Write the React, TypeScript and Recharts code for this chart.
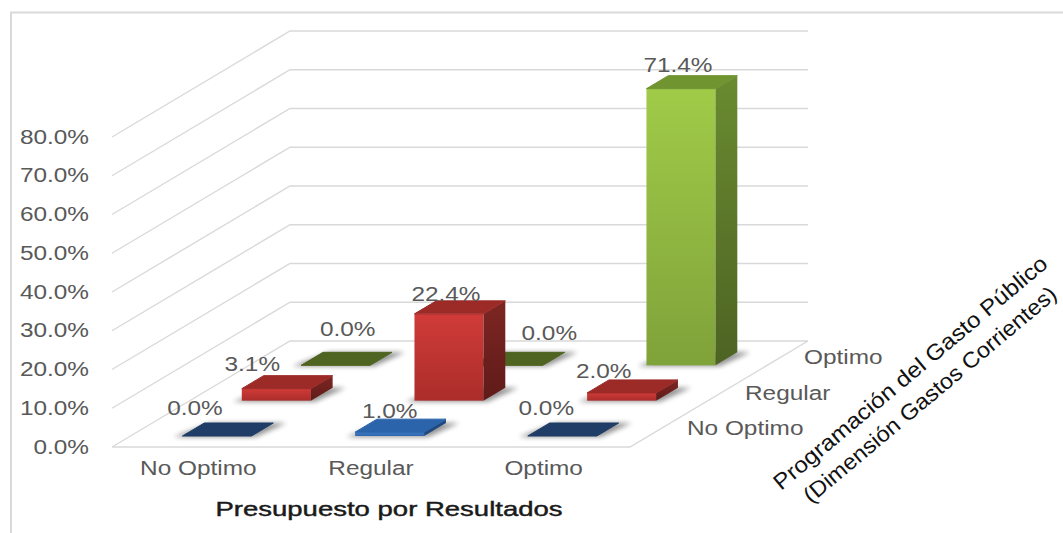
import { Bar, BarChart, CartesianGrid, LabelList, XAxis, YAxis } from 'recharts';

const categories = ['No Optimo', 'Regular', 'Optimo'];
const noOptimoValues = [0.0, 1.0, 0.0];
const regularValues = [3.1, 22.4, 2.0];
const optimoValues = [0.0, 0.0, 71.4];
const yTicks = [0, 10, 20, 30, 40, 50, 60, 70, 80];

const tableData = categories.map((name, i) => ({
  name,
  noOptimo: noOptimoValues[i],
  regular: regularValues[i],
  optimo: optimoValues[i],
}));

// oblique projection of the floor
const DEPTH_X = 178;
const DEPTH_Y = 106;
const ROW_DEPTH = DEPTH_Y / 3;
const FLOOR_INSET = 11;
const BAR_DEPTH = 13;
const SLOPE = DEPTH_X / DEPTH_Y;
const FLOOR_Y = 447;

const GREY = '#595959';
const GRID = '#d9d9d9';
const FONT = '"Liberation Sans", Arial, sans-serif';
const WIDEN = 1.25;

const rowStyles = [
  { front: 'url(#frontBlue)', side: '#1f4a80', top: '#2b64ab', flat: '#1f3d66' },
  { front: 'url(#frontRed)', side: 'url(#sideRed)', top: '#9c2b28', flat: '#9c2b28' },
  { front: 'url(#frontGreen)', side: 'url(#sideGreen)', top: '#6f9430', flat: '#4f6420' },
];

// label nudges relative to the front face, [row][column] -> [dx, dy]
const labelNudge = [
  [[-22, -21], [0, -14], [-16, -21]],
  [[-24, -18], [-3, -13], [-18, -15]],
  [[12, -29], [41, -25], [-3, -17]],
];

function WideText({ x, y, children, anchor = 'start', size = 19.5, fill = GREY, weight = 'normal', scale = WIDEN, stroke }: any) {
  return (
    <text
      transform={`translate(${x} ${y}) scale(${scale} 1)`}
      textAnchor={anchor}
      fontFamily={FONT}
      fontSize={size}
      fontWeight={weight}
      fill={fill}
      stroke={stroke}
      strokeWidth={stroke ? 0.45 : undefined}
    >
      {children}
    </text>
  );
}

const makeBarShape = (row: number) => (props: any) => {
  const { x, y, width, height } = props;
  const st = rowStyles[row];
  const shiftY = FLOOR_INSET + row * ROW_DEPTH;
  const shiftX = shiftY * SLOPE;
  const fx = x + shiftX;
  const fy = y - shiftY;
  const base = fy + height;
  const dy = BAR_DEPTH;
  const dx = BAR_DEPTH * SLOPE;
  const pts = (p: number[][]) => p.map((q) => q.join(',')).join(' ');
  return (
    <g>
      <polygon
        points={pts([
          [fx - 9, base + 1],
          [fx + width + 4, base + 1],
          [fx + width + dx + 13, base - dy],
          [fx + dx + 6, base - dy],
        ])}
        fill="#000"
        opacity={0.42}
        filter="url(#soft)"
      />
      {height > 0 && <rect x={fx} y={fy} width={width} height={height} fill={st.front} />}
      {height > 0 && (
        <polygon
          points={pts([
            [fx + width, fy],
            [fx + width + dx, fy - dy],
            [fx + width + dx, base - dy],
            [fx + width, base],
          ])}
          fill={st.side}
        />
      )}
      <polygon
        points={pts([
          [fx, fy],
          [fx + width, fy],
          [fx + width + dx, fy - dy],
          [fx + dx, fy - dy],
        ])}
        fill={height > 0 ? st.top : st.flat}
        stroke={height > 0 ? st.top : st.flat}
        strokeWidth={1}
        strokeLinejoin="round"
      />
    </g>
  );
};

const makeLabel = (row: number) => (props: any) => {
  const { x, y, width, value, index } = props;
  const shiftY = FLOOR_INSET + row * ROW_DEPTH;
  const [nx, ny] = labelNudge[row][index];
  return (
    <WideText x={x + shiftY * SLOPE + width / 2 + nx} y={y - shiftY + ny} anchor="middle">
      {`${Number(value).toFixed(1)}%`}
    </WideText>
  );
};

// each grid line runs up the side wall and along the back wall
const wallLine = (props: any) => {
  const { x1, y1, x2, key } = props;
  const backY = y1 - DEPTH_Y;
  let d = `M${x1} ${y1}L${x1 + DEPTH_X} ${backY}L${x2 + DEPTH_X} ${backY}`;
  if (Math.abs(y1 - FLOOR_Y) < 1) d += `M${x1} ${y1}L${x2} ${y1}L${x2 + DEPTH_X} ${backY}`;
  return <path key={key} d={d} fill="none" stroke={GRID} strokeWidth={1.4} />;
};

const YTick = ({ x, y, payload }: any) => (
  <WideText x={x} y={y + 6.5} anchor="end">{`${payload.value.toFixed(1)}%`}</WideText>
);

const XTick = ({ x, y, payload }: any) => (
  <WideText x={x} y={y + 20} anchor="middle">{payload.value}</WideText>
);

export default function App() {
  return (
    <div style={{ position: 'absolute', left: 0, top: 0, width: 1063, height: 533, background: '#fff', overflow: 'hidden' }}>
      <BarChart
        width={1063}
        height={533}
        data={tableData}
        barSize={69}
        barGap={-69}
        margin={{ top: 137, right: 433, bottom: 56, left: 52 }}
      >
        <defs>
          <linearGradient id="frontRed" x1="0" y1="0" x2="0" y2="1">
            <stop offset="0%" stopColor="#d03b38" />
            <stop offset="100%" stopColor="#ab2d2a" />
          </linearGradient>
          <linearGradient id="sideRed" x1="0" y1="0" x2="0" y2="1">
            <stop offset="0%" stopColor="#7d2623" />
            <stop offset="100%" stopColor="#5f1b19" />
          </linearGradient>
          <linearGradient id="frontGreen" x1="0" y1="0" x2="0" y2="1">
            <stop offset="0%" stopColor="#a0cb48" />
            <stop offset="100%" stopColor="#80a23a" />
          </linearGradient>
          <linearGradient id="sideGreen" x1="0" y1="0" x2="0" y2="1">
            <stop offset="0%" stopColor="#6a8b30" />
            <stop offset="100%" stopColor="#4d6323" />
          </linearGradient>
          <linearGradient id="frontBlue" x1="0" y1="0" x2="0" y2="1">
            <stop offset="0%" stopColor="#3c78c4" />
            <stop offset="100%" stopColor="#2f68ae" />
          </linearGradient>
          <filter id="soft" x="-30%" y="-60%" width="160%" height="220%">
            <feGaussianBlur stdDeviation="2.5" />
          </filter>
        </defs>

        <path d="M11 533V12.5H1063" fill="none" stroke={GRID} strokeWidth={2} />

        <CartesianGrid vertical={false} horizontal={wallLine} horizontalValues={yTicks} />

        <XAxis dataKey="name" height={30} axisLine={false} tickLine={false} tick={<XTick />} interval={0} />
        <YAxis
          width={60}
          domain={[0, 80]}
          ticks={yTicks}
          axisLine={false}
          tickLine={false}
          tickSize={0}
          tickMargin={23}
          tick={<YTick />}
        />

        {/* back row first so the nearer rows paint over it */}
        <Bar dataKey="optimo" shape={makeBarShape(2)} isAnimationActive={false}>
          <LabelList dataKey="optimo" content={makeLabel(2)} />
        </Bar>
        <Bar dataKey="regular" shape={makeBarShape(1)} isAnimationActive={false}>
          <LabelList dataKey="regular" content={makeLabel(1)} />
        </Bar>
        <Bar dataKey="noOptimo" shape={makeBarShape(0)} isAnimationActive={false}>
          <LabelList dataKey="noOptimo" content={makeLabel(0)} />
        </Bar>

        <WideText x={804} y={364}>Optimo</WideText>
        <WideText x={745} y={400}>Regular</WideText>
        <WideText x={687} y={435}>No Optimo</WideText>

        <WideText x={389} y={516} anchor="middle" size={21} fill="#1a1a1a" stroke="#1a1a1a" scale={1.31}>
          Presupuesto por Resultados
        </WideText>

        <g transform="translate(781 491) rotate(-40)">
          <WideText x={0} y={0} size={22} fill="#111" scale={1.11}>Programación del Gasto Público</WideText>
        </g>
        <g transform="translate(811 504) rotate(-40)">
          <WideText x={0} y={0} size={22} fill="#111" scale={1.07}>(Dimensión Gastos Corrientes)</WideText>
        </g>
      </BarChart>
    </div>
  );
}
